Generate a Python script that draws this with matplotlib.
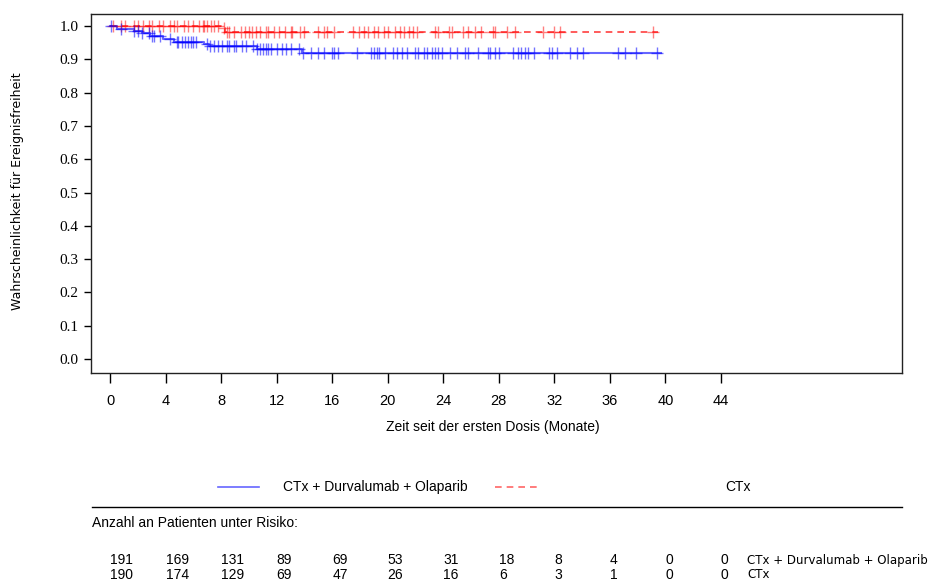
import matplotlib
matplotlib.use("Agg")
import matplotlib.pyplot as plt
from matplotlib.lines import Line2D
import numpy as np

# Kaplan-Meier steps (event times in months, survival after the step)
blue_times = [0, 0.5, 1.7, 2.3, 2.9, 3.8, 4.6, 6.8, 7.1, 10.6, 13.8]
blue_surv = [1.0, 0.990, 0.986, 0.978, 0.970, 0.962, 0.953, 0.947, 0.940, 0.930, 0.918]
blue_end = 39.7
blue_cens = [0.1, 0.8, 1.7, 2.0, 2.3, 2.8, 3.0, 3.2, 3.6, 4.3, 4.8, 4.9, 5.2, 5.4, 5.6,
             5.8, 6.0, 6.2, 7.0, 7.2, 7.5, 7.8, 8.1, 8.4, 8.6, 8.9, 9.1, 9.5, 9.8, 10.3,
             10.6, 10.8, 11.0, 11.2, 11.4, 11.6, 12.0, 12.4, 12.7, 13.0, 13.6, 13.9, 14.5,
             15.0, 15.4, 16.0, 16.1, 16.4, 17.8, 18.8, 19.0, 19.2, 19.4, 19.8, 20.4, 20.7,
             21.0, 21.4, 22.0, 22.2, 22.6, 22.8, 23.2, 23.4, 23.6, 23.9, 24.5, 25.0, 25.6,
             25.8, 26.5, 27.2, 27.4, 27.7, 28.0, 29.0, 29.4, 29.6, 29.9, 30.1, 30.5, 31.6,
             31.8, 32.2, 33.1, 33.6, 34.1, 36.6, 37.1, 37.9, 39.4]

red_times = [0, 8.0, 8.3]
red_surv = [1.0, 0.994, 0.981]
red_end = 39.5
red_cens = [0.2, 0.8, 1.1, 1.7, 2.0, 2.4, 2.8, 3.0, 3.5, 3.8, 4.3, 4.6, 4.8, 5.3, 5.6,
            6.0, 6.4, 6.7, 6.8, 7.0, 7.3, 7.5, 7.8, 8.2, 8.4, 8.6, 8.9, 9.4, 9.7, 10.0,
            10.2, 10.5, 10.8, 11.2, 11.4, 11.8, 12.2, 12.6, 13.0, 13.1, 13.7, 14.0, 15.0,
            15.4, 15.6, 16.1, 17.5, 17.9, 18.3, 18.6, 19.0, 19.3, 19.7, 20.0, 20.5, 20.9,
            21.2, 21.5, 21.8, 22.1, 23.4, 23.6, 24.4, 24.6, 25.4, 25.8, 26.3, 26.7, 27.6,
            27.7, 28.6, 29.2, 31.2, 32.0, 32.4, 39.1]

risk_times = [0, 4, 8, 12, 16, 20, 24, 28, 32, 36, 40, 44]
risk_blue = [191, 169, 131, 89, 69, 53, 31, 18, 8, 4, 0, 0]
risk_red = [190, 174, 129, 69, 47, 26, 16, 6, 3, 1, 0, 0]

label_blue = "CTx + Durvalumab + Olaparib"
label_red = "CTx"

W, H = 930, 581
narrow = ["Liberation Sans", "DejaVu Sans"]

fig = plt.figure(figsize=(W / 100, H / 100), dpi=100)
ax = fig.add_axes([91 / W, 1 - 373 / H, (902 - 91) / W, (373 - 14) / H])


def km_line(times, surv, end):
    x = list(times) + [end]
    y = list(surv) + [surv[-1]]
    return x, y


def surv_at(times, surv, t):
    i = np.searchsorted(times, t, side="right") - 1
    return np.array(surv)[i]


bx, by = km_line(blue_times, blue_surv, blue_end)
rx, ry = km_line(red_times, red_surv, red_end)

ax.step(rx, ry, where="post", color="red", lw=1.2, alpha=0.75, dashes=(4, 3))
ax.step(bx, by, where="post", color="blue", lw=1.5, alpha=0.6)

ax.plot(red_cens, surv_at(red_times, red_surv, red_cens), ls="none", marker="+",
        ms=8, mew=1, color="red", alpha=0.5)
ax.plot(blue_cens, surv_at(blue_times, blue_surv, blue_cens), ls="none", marker="+",
        ms=8, mew=1, color="blue", alpha=0.55)

ax.set_xlim(-1.37, 57.04)
ax.set_ylim(-0.042, 1.036)
ax.set_xticks(risk_times)
ax.set_yticks(np.arange(0, 1.01, 0.1))
ax.set_yticklabels([f"{v:.1f}" for v in np.arange(0, 1.01, 0.1)],
                   family="Liberation Serif", fontsize=11)
ax.set_xticklabels([str(t) for t in risk_times], family=narrow, fontsize=10.5)
ax.tick_params(axis="x", direction="out", length=7, pad=8, width=1)
ax.tick_params(axis="y", direction="out", length=5, pad=4, width=1)
for s in ax.spines.values():
    s.set_linewidth(1.0)
    s.set_color("#222222")

fig.text(18 / W, 1 - 191 / H, "Wahrscheinlichkeit für Ereignisfreiheit", rotation=90,
         ha="center", va="center", fontsize=9)
fig.text(493 / W, 1 - 427 / H, "Zeit seit der ersten Dosis (Monate)", ha="center",
         va="center", family=narrow, fontsize=10)

# legend row
fig.add_artist(Line2D([218 / W, 259 / W], [1 - 487 / H] * 2, color="blue", lw=1.2,
                      alpha=0.6, transform=fig.transFigure))
fig.text(283 / W, 1 - 487 / H, label_blue, ha="left", va="center", family=narrow,
         fontsize=10)
fig.add_artist(Line2D([495 / W, 537 / W], [1 - 487 / H] * 2, color="red", lw=1.2,
                      alpha=0.6, dashes=(4, 3), transform=fig.transFigure))
fig.text(725 / W, 1 - 487 / H, label_red, ha="left", va="center", family=narrow,
         fontsize=10)
fig.add_artist(Line2D([92 / W, 902 / W], [1 - 507 / H] * 2, color="black", lw=1.0,
                      transform=fig.transFigure))

fig.text(92 / W, 1 - 523 / H, "Anzahl an Patienten unter Risiko:", ha="left",
         va="center", family=narrow, fontsize=10)

# numbers at risk, left-aligned on the month ticks
tr = matplotlib.transforms.blended_transform_factory(ax.transData, fig.transFigure)
for t, nb, nr in zip(risk_times, risk_blue, risk_red):
    fig.text(t, 1 - 560.5 / H, str(nb), transform=tr, ha="left", va="center",
             family=narrow, fontsize=10)
    fig.text(t, 1 - 575 / H, str(nr), transform=tr, ha="left", va="center",
             family=narrow, fontsize=10)
fig.text(747 / W, 1 - 560.5 / H, label_blue, ha="left", va="center", fontsize=8.5)
fig.text(747 / W, 1 - 575 / H, label_red, ha="left", va="center", fontsize=8.5)

fig.savefig("out.png", dpi=100)
